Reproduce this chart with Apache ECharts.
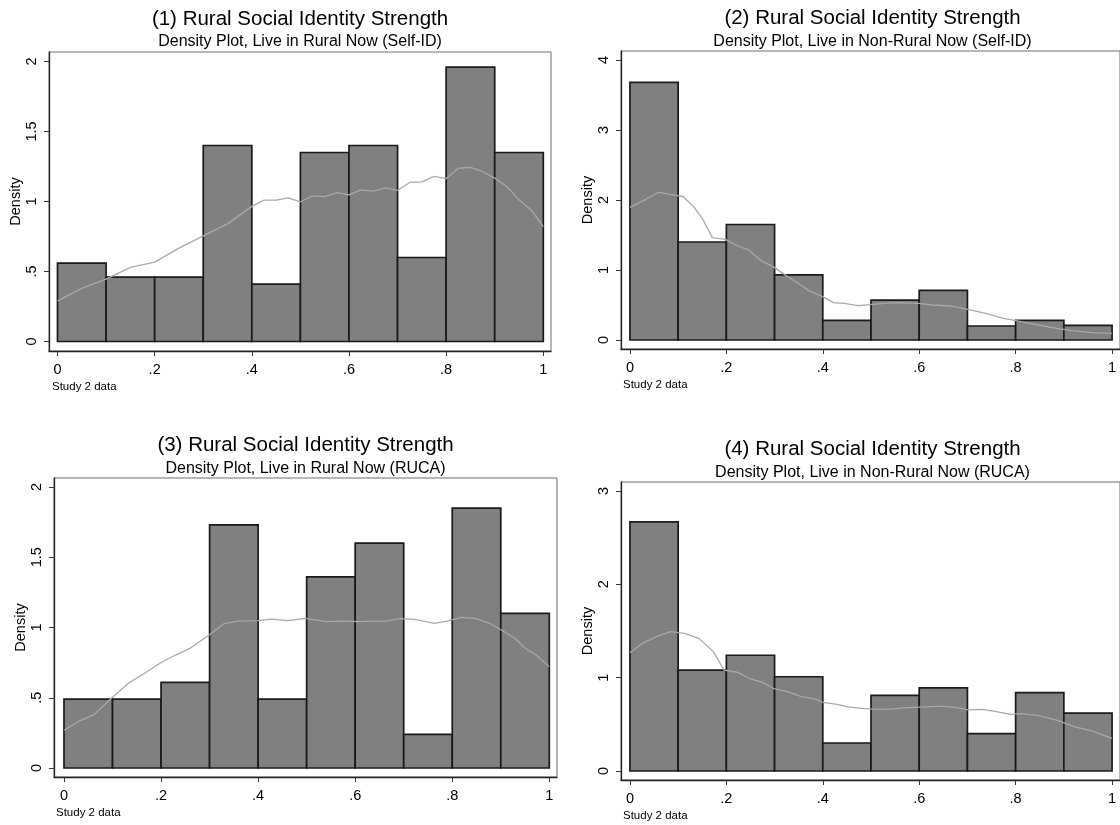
<!DOCTYPE html>
<html>
<head>
<meta charset="utf-8">
<script src="https://cdn.jsdelivr.net/npm/echarts@6/dist/echarts.min.js"></script>
<style>
  html, body { margin: 0; padding: 0; background: #fff; }
  #chart { width: 1120px; height: 825px; }
</style>
</head>
<body>
<div id="chart"></div>
<script>
// ---- data -------------------------------------------------------------
const binEdges = [0, 0.1, 0.2, 0.3, 0.4, 0.5, 0.6, 0.7, 0.8, 0.9, 1.0];

const xTickValues = [0, 0.2, 0.4, 0.6, 0.8, 1];
const xTickLabels = ['0', '.2', '.4', '.6', '.8', '1'];

const yTicksHalfStep = [0, 0.5, 1, 1.5, 2];
const yLabelsHalfStep = ['0', '.5', '1', '1.5', '2'];
const yTicksToFour = [0, 1, 2, 3, 4];
const yLabelsToFour = ['0', '1', '2', '3', '4'];
const yTicksToThree = [0, 1, 2, 3];
const yLabelsToThree = ['0', '1', '2', '3'];

const panelTitles = [
  '(1) Rural Social Identity Strength',
  '(2) Rural Social Identity Strength',
  '(3) Rural Social Identity Strength',
  '(4) Rural Social Identity Strength'
];
const panelSubtitles = [
  'Density Plot, Live in Rural Now (Self-ID)',
  'Density Plot, Live in Non-Rural Now (Self-ID)',
  'Density Plot, Live in Rural Now (RUCA)',
  'Density Plot, Live in Non-Rural Now (RUCA)'
];
const yAxisTitle = 'Density';
const sourceNote = 'Study 2 data';

// histogram heights (density) per bin of width 0.1
const ruralSelfIdDensity    = [0.56, 0.46, 0.46, 1.40, 0.41, 1.35, 1.40, 0.60, 1.96, 1.35];
const nonRuralSelfIdDensity = [3.68, 1.40, 1.65, 0.93, 0.28, 0.57, 0.71, 0.20, 0.28, 0.21];
const ruralRucaDensity      = [0.49, 0.49, 0.61, 1.73, 0.49, 1.36, 1.60, 0.24, 1.85, 1.10];
const nonRuralRucaDensity   = [2.67, 1.08, 1.24, 1.01, 0.30, 0.81, 0.89, 0.40, 0.84, 0.62];

// kernel density estimates, [x, density]
const ruralSelfIdKernel = [
  [0, 0.29], [0.05, 0.38], [0.1, 0.445], [0.15, 0.53], [0.2, 0.567], [0.25, 0.667],
  [0.3, 0.755], [0.35, 0.84], [0.4, 0.965], [0.425, 1.01], [0.45, 1.01], [0.475, 1.026],
  [0.5, 0.998], [0.525, 1.04], [0.55, 1.035], [0.575, 1.064], [0.6, 1.048], [0.625, 1.083],
  [0.65, 1.074], [0.675, 1.098], [0.7, 1.079], [0.725, 1.136], [0.75, 1.14], [0.775, 1.179],
  [0.8, 1.164], [0.825, 1.238], [0.85, 1.243], [0.875, 1.214], [0.9, 1.167], [0.925, 1.107],
  [0.95, 1.012], [0.975, 0.94], [1.0, 0.82]
];
const nonRuralSelfIdKernel = [
  [0, 1.895], [0.033, 2.01], [0.059, 2.11], [0.084, 2.08], [0.11, 2.05], [0.132, 1.905],
  [0.15, 1.738], [0.171, 1.462], [0.198, 1.438], [0.224, 1.343], [0.246, 1.286], [0.272, 1.133],
  [0.297, 1.048], [0.327, 0.905], [0.349, 0.81], [0.371, 0.705], [0.4, 0.619], [0.422, 0.533],
  [0.444, 0.524], [0.474, 0.49], [0.503, 0.51], [0.547, 0.533], [0.598, 0.524], [0.628, 0.5],
  [0.664, 0.486], [0.701, 0.438], [0.738, 0.381], [0.775, 0.31], [0.811, 0.262], [0.848, 0.214],
  [0.885, 0.167], [0.921, 0.129], [0.958, 0.105], [1.0, 0.095]
];
const ruralRucaKernel = [
  [0, 0.269], [0.031, 0.333], [0.062, 0.38], [0.097, 0.495], [0.134, 0.606], [0.171, 0.685],
  [0.2, 0.751], [0.23, 0.804], [0.259, 0.851], [0.299, 0.946], [0.329, 1.025], [0.358, 1.046],
  [0.399, 1.049], [0.428, 1.06], [0.461, 1.049], [0.498, 1.065], [0.539, 1.042], [0.575, 1.046],
  [0.609, 1.042], [0.634, 1.046], [0.664, 1.046], [0.693, 1.063], [0.723, 1.058], [0.763, 1.03],
  [0.789, 1.046], [0.818, 1.072], [0.848, 1.065], [0.877, 1.03], [0.907, 0.97], [0.929, 0.923],
  [0.951, 0.851], [0.973, 0.804], [1.0, 0.72]
];
const nonRuralRucaKernel = [
  [0, 1.268], [0.026, 1.368], [0.055, 1.439], [0.084, 1.493], [0.114, 1.475], [0.143, 1.421],
  [0.173, 1.279], [0.195, 1.082], [0.224, 1.057], [0.25, 0.986], [0.275, 0.95], [0.297, 0.886],
  [0.327, 0.85], [0.356, 0.796], [0.385, 0.771], [0.4, 0.736], [0.43, 0.714], [0.452, 0.686],
  [0.481, 0.671], [0.503, 0.664], [0.54, 0.664], [0.576, 0.679], [0.613, 0.686], [0.642, 0.696],
  [0.679, 0.679], [0.701, 0.654], [0.731, 0.661], [0.76, 0.636], [0.789, 0.607], [0.811, 0.614],
  [0.848, 0.593], [0.885, 0.546], [0.921, 0.475], [0.958, 0.429], [1.0, 0.35]
];

// ---- layout -----------------------------------------------------------
// box: plot-region outline [left, top, right, bottom];
// xPix: pixel of x = 0 and x = 1; yPix: pixel of y = 0 and y = yRef
const FONT = "'Liberation Sans', Arial, Helvetica, sans-serif";
const panels = [
  { box: [49, 52, 551, 351],   xPix: [57.5, 543.3], yPix: [341.5, 61.5], yRef: 2,
    yTicks: yTicksHalfStep, yLabels: yLabelsHalfStep,
    bars: ruralSelfIdDensity, kernel: ruralSelfIdKernel,
    titleY: 19.8, subY: 42, noteX: 52, noteY: 387 },
  { box: [621, 51, 1124, 349], xPix: [630, 1116],   yPix: [340, 60],     yRef: 4,
    yTicks: yTicksToFour, yLabels: yLabelsToFour,
    bars: nonRuralSelfIdDensity, kernel: nonRuralSelfIdKernel,
    titleY: 18.8, subY: 41.8, noteX: 623, noteY: 385 },
  { box: [54, 478, 557, 777],  xPix: [64, 549.3],   yPix: [768, 487],    yRef: 2,
    yTicks: yTicksHalfStep, yLabels: yLabelsHalfStep,
    bars: ruralRucaDensity, kernel: ruralRucaKernel,
    titleY: 445.3, subY: 469, noteX: 56, noteY: 813 },
  { box: [621, 482, 1124, 780], xPix: [630, 1116],  yPix: [771, 491],    yRef: 3,
    yTicks: yTicksToThree, yLabels: yLabelsToThree,
    bars: nonRuralRucaDensity, kernel: nonRuralRucaKernel,
    titleY: 449.3, subY: 472.5, noteX: 623, noteY: 816 }
];

const grids = [], xAxes = [], yAxes = [], series = [], graphics = [];

panels.forEach((p, i) => {
  const [L, T, R, B] = p.box;
  const xs = p.xPix[1] - p.xPix[0];
  const ys = (p.yPix[0] - p.yPix[1]) / p.yRef;

  grids.push({
    left: L, top: T, width: R - L, height: B - T,
    show: true, borderColor: '#6e6e6e', borderWidth: 1, backgroundColor: '#fff'
  });

  xAxes.push({
    type: 'value', gridIndex: i,
    min: -(p.xPix[0] - L) / xs,
    max: 1 + (R - p.xPix[1]) / xs,
    axisLine: { show: true, onZero: false, lineStyle: { color: '#222', width: 1.3 } },
    axisTick: { show: true, length: 5, customValues: xTickValues, lineStyle: { color: '#333', width: 1 } },
    axisLabel: {
      show: true, margin: 11, color: '#000', fontFamily: FONT, fontSize: 14.5,
      customValues: xTickValues,
      formatter: v => xTickLabels[xTickValues.findIndex(t => Math.abs(t - v) < 1e-9)] ?? ''
    },
    splitLine: { show: false }
  });

  yAxes.push({
    type: 'value', gridIndex: i,
    min: -(B - p.yPix[0]) / ys,
    max: (p.yPix[0] - T) / ys,
    name: yAxisTitle, nameLocation: 'middle', nameRotate: 90, nameGap: 25,
    nameTextStyle: { color: '#000', fontFamily: FONT, fontSize: 14.5 },
    axisLine: { show: true, onZero: false, lineStyle: { color: '#222', width: 1.3 } },
    axisTick: { show: true, length: 5, customValues: p.yTicks, lineStyle: { color: '#333', width: 1 } },
    axisLabel: {
      show: true, rotate: 90, margin: 10, color: '#000', fontFamily: FONT, fontSize: 14.5,
      customValues: p.yTicks,
      formatter: v => p.yLabels[p.yTicks.findIndex(t => Math.abs(t - v) < 1e-9)] ?? ''
    },
    splitLine: { show: false }
  });

  // histogram bars: [left edge, right edge, density]
  const barData = p.bars.map((d, k) => [binEdges[k], binEdges[k + 1], d]);
  series.push({
    type: 'custom', xAxisIndex: i, yAxisIndex: i,
    data: barData,
    encode: { x: [0, 1], y: 2 },
    renderItem: (params, api) => {
      const topLeft = api.coord([api.value(0), api.value(2)]);
      const bottomRight = api.coord([api.value(1), 0]);
      return {
        type: 'rect',
        shape: {
          x: topLeft[0], y: topLeft[1],
          width: bottomRight[0] - topLeft[0],
          height: bottomRight[1] - topLeft[1]
        },
        style: { fill: '#808080', stroke: '#1a1a1a', lineWidth: 1.7 }
      };
    },
    z: 2
  });

  // kernel density curve
  series.push({
    type: 'line', xAxisIndex: i, yAxisIndex: i,
    data: p.kernel, showSymbol: false, smooth: false,
    lineStyle: { color: '#a9a9a9', width: 1.3 },
    z: 3
  });

  const cx = (L + R) / 2;
  graphics.push({
    type: 'text', x: cx, y: p.titleY,
    style: { text: panelTitles[i], font: `20.5px ${FONT}`, fill: '#000',
             align: 'center', verticalAlign: 'middle' }
  });
  graphics.push({
    type: 'text', x: cx, y: p.subY,
    style: { text: panelSubtitles[i], font: `16px ${FONT}`, fill: '#000',
             align: 'center', verticalAlign: 'middle' }
  });
  graphics.push({
    type: 'text', x: p.noteX, y: p.noteY,
    style: { text: sourceNote, font: `11.5px ${FONT}`, fill: '#000',
             align: 'left', verticalAlign: 'middle' }
  });
});

const chart = echarts.init(document.getElementById('chart'), null, { renderer: 'canvas' });
chart.setOption({
  backgroundColor: '#fff',
  animation: false,
  grid: grids,
  xAxis: xAxes,
  yAxis: yAxes,
  series: series,
  graphic: graphics
});
</script>
</body>
</html>
